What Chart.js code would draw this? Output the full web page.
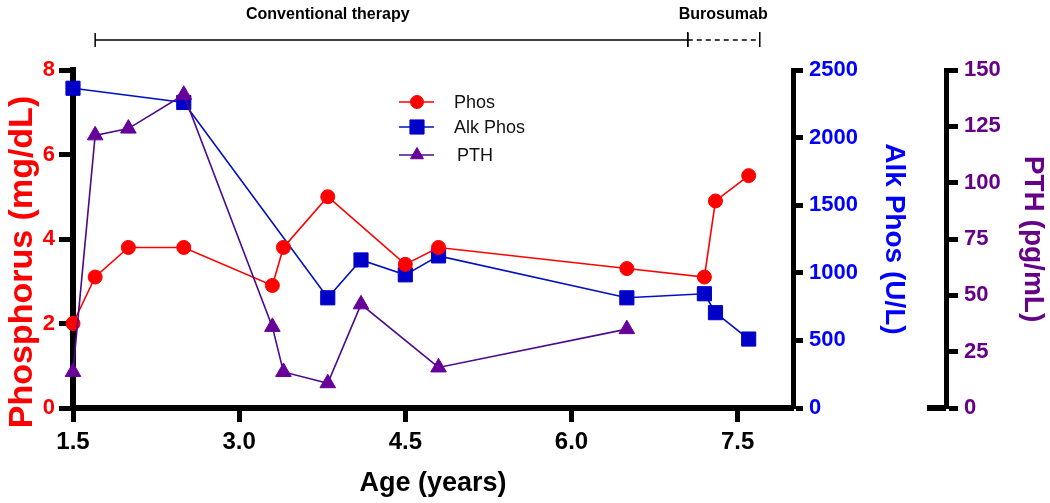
<!DOCTYPE html>
<html>
<head>
<meta charset="utf-8">
<script src="https://cdn.jsdelivr.net/npm/chart.js@4.4.1/dist/chart.umd.min.js"></script>
<style>
  body { margin: 0; background: #fff; }
  #wrap { width: 1050px; height: 503px; position: relative; }
</style>
</head>
<body>
<div id="wrap"><canvas id="c"></canvas></div>
<script>
// values
var phosAge = [1.5, 1.7, 2.0, 2.5, 3.3, 3.4, 3.8, 4.5, 4.8, 6.5, 7.2, 7.3, 7.6];
var phosVal = [2.0, 3.1, 3.8, 3.8, 2.9, 3.8, 5.0, 3.4, 3.8, 3.3, 3.1, 4.9, 5.5];
var alkAge  = [1.5, 2.5, 3.8, 4.1, 4.5, 4.8, 6.5, 7.2, 7.3, 7.6];
var alkVal  = [2365, 2260, 815, 1095, 985, 1125, 815, 845, 705, 510];
var pthAge  = [1.5, 1.7, 2.0, 2.5, 3.3, 3.4, 3.8, 4.1, 4.8, 6.5];
var pthVal  = [16, 121, 124, 139, 36, 16, 11, 46, 18, 35];
var xTicks  = [1.5, 3.0, 4.5, 6.0, 7.5];

// treatment periods on top (in years)
var periodLabels = ["Conventional therapy", "Burosumab"];
var periodStart  = [1.7, 7.05];
var periodEnd    = [7.05, 7.7];
var periodLabelAt = [3.8, 7.37];

var FONT = "'Liberation Sans', Arial, sans-serif";
var RED = "#ff0000", BLUE = "#0000ff", PURPLE = "#660088";

function pts(xs, ys) {
    return xs.map(function (x, i) { return {x: x, y: ys[i]}; });
}

var datasets = [
    {label: "Phos", data: pts(phosAge, phosVal), yAxisID: "y", order: 2,
     borderColor: RED, backgroundColor: RED, pointStyle: "circle", pointRadius: 7},
    {label: "Alk Phos", data: pts(alkAge, alkVal), yAxisID: "yAlk", order: 3,
     borderColor: "#0010c0", backgroundColor: "#0000c8", pointStyle: "rect", pointRadius: 10},
    {label: "PTH", data: pts(pthAge, pthVal), yAxisID: "yPth", order: 1,
     borderColor: "#4b0a8a", backgroundColor: "#660099", pointStyle: "triangle", pointRadius: 9}
];
datasets.forEach(function (d) {
    d.borderWidth = 1.6;
    d.tension = 0;
    d.clip = false;
    d.pointBorderWidth = 1;
    d.pointBorderColor = d.backgroundColor;
    d.pointBackgroundColor = d.backgroundColor;
    d.fill = false;
});

function yAxis(pos, min, max, step, color, tl, pad, width) {
    return {
        type: "linear", position: pos, min: min, max: max,
        ticks: {stepSize: step, color: color, padding: pad,
                callback: function (v) { return String(v); },
                font: {family: FONT, size: 22, weight: "bold"}},
        grid: {drawOnChartArea: false, drawTicks: true, tickLength: tl, tickWidth: 5, tickColor: "#000"},
        border: {display: true, color: "#000", width: 6},
        afterFit: function (s) { s.width = width; }
    };
}

var scales = {
    x: {
        type: "linear", min: 1.5, max: 8.0,
        afterBuildTicks: function (s) { s.ticks = xTicks.map(function (v) { return {value: v}; }); },
        ticks: {color: "#000", padding: 6, callback: function (v) { return Number(v).toFixed(1); },
                font: {family: FONT, size: 24, weight: "bold"}},
        grid: {drawOnChartArea: false, drawTicks: true, tickLength: 14, tickWidth: 5, tickColor: "#000"},
        border: {display: true, color: "#000", width: 6},
        title: {display: true, text: "Age (years)", color: "#000", padding: {top: 0, bottom: 3},
                font: {family: FONT, size: 27, weight: "bold"}},
        afterFit: function (s) { s.height = 95; }
    },
    y: yAxis("left", 0, 8, 2, RED, 14, 4, 73),
    yAlk: yAxis("right", 0, 2500, 500, BLUE, 10, 6, 153),
    yPth: yAxis("right", 0, 150, 25, PURPLE, 12, 6, 104)
};
scales.yAlk.weight = 0;
scales.yPth.weight = 1;
scales.yAlk.border.width = 5;
scales.yPth.border.width = 5;
scales.yAlk.title = {display: true, text: "Alk Phos (U/L)", color: BLUE, padding: {top: 35},
                     font: {family: FONT, size: 28, weight: "bold"}};
scales.yPth.title = {display: true, text: "PTH (pg/mL)", color: PURPLE, padding: {top: 0},
                     font: {family: FONT, size: 28, weight: "bold"}};

var extras = {
    id: "extras",
    afterDraw: function (chart) {
        var ctx = chart.ctx, x = chart.scales.x, area = chart.chartArea;
        ctx.save();

        // left axis title
        ctx.save();
        ctx.translate(22.5, 262);
        ctx.rotate(-Math.PI / 2);
        ctx.fillStyle = RED;
        ctx.font = "bold 34px " + FONT;
        ctx.textAlign = "center";
        ctx.textBaseline = "middle";
        ctx.fillText("Phosphorus (mg/dL)", 0, 0);
        ctx.restore();

        // small foot on the PTH axis
        var pth = chart.scales.yPth;
        ctx.fillStyle = "#000";
        ctx.fillRect(pth.left - 19, area.bottom - 3, 19, 6);

        // treatment brackets
        var yb = 40;
        ctx.strokeStyle = "#000";
        ctx.lineWidth = 1.5;
        ctx.fillStyle = "#000";
        ctx.font = "bold 16px " + FONT;
        ctx.textAlign = "center";
        ctx.textBaseline = "alphabetic";
        for (var i = 0; i < periodLabels.length; i++) {
            var a = x.getPixelForValue(periodStart[i]);
            var b = x.getPixelForValue(periodEnd[i]);
            ctx.setLineDash(i === 0 ? [] : [5, 4]);
            ctx.beginPath();
            ctx.moveTo(a, yb); ctx.lineTo(b, yb);
            ctx.stroke();
            ctx.setLineDash([]);
            ctx.beginPath();
            ctx.moveTo(a, yb - 7); ctx.lineTo(a, yb + 7);
            ctx.moveTo(b, yb - 8); ctx.lineTo(b, yb + 7);
            ctx.stroke();
            ctx.fillText(periodLabels[i], x.getPixelForValue(periodLabelAt[i]), 19);
        }

        // legend
        var rows = [102, 127, 155];
        var legendR = [6.5, 10, 7.5];
        var textX = [454, 454, 457];
        ctx.font = "18px " + FONT;
        ctx.textAlign = "left";
        ctx.textBaseline = "middle";
        chart.data.datasets.forEach(function (d, k) {
            var yy = rows[k];
            ctx.strokeStyle = d.borderColor;
            ctx.lineWidth = 1.6;
            ctx.beginPath();
            ctx.moveTo(399, yy); ctx.lineTo(434, yy);
            ctx.stroke();
            ctx.fillStyle = d.backgroundColor;
            ctx.strokeStyle = d.backgroundColor;
            ctx.lineWidth = 1;
            Chart.helpers.drawPoint(ctx, {pointStyle: d.pointStyle, radius: legendR[k], borderWidth: 1, rotation: 0}, 417, yy);
            ctx.fillStyle = "#111";
            ctx.fillText(d.label, textX[k], yy + 1);
        });
        ctx.restore();
    }
};

new Chart(document.getElementById("c"), {
    type: "line",
    data: {datasets: datasets},
    options: {
        responsive: true,
        maintainAspectRatio: false,
        animation: false,
        layout: {padding: {top: 70, left: 0, right: 0, bottom: 0}},
        plugins: {legend: {display: false}, tooltip: {enabled: false}},
        scales: scales
    },
    plugins: [extras]
});
</script>
</body>
</html>
